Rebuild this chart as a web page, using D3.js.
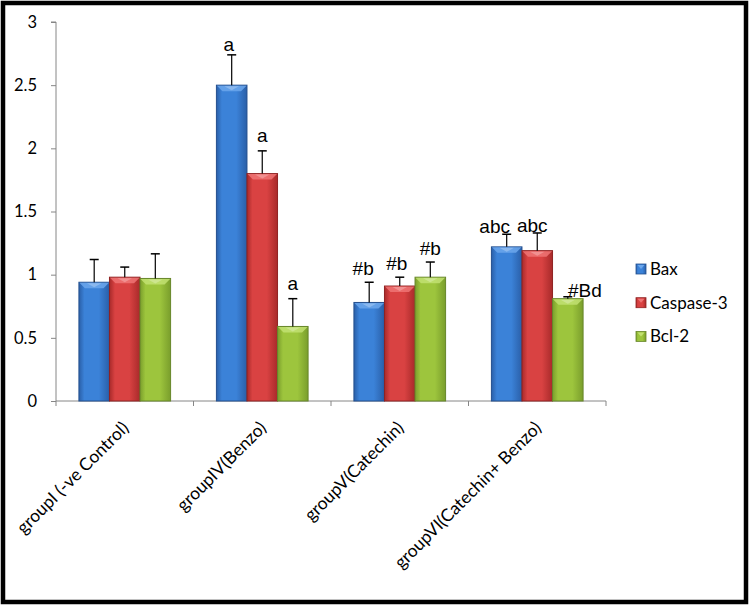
<!DOCTYPE html>
<html>
<head>
<meta charset="utf-8">
<script src="https://cdn.jsdelivr.net/npm/d3@7"></script>
<style>
  html, body { margin: 0; padding: 0; background: #fff; }
  svg { display: block; }
</style>
</head>
<body>
<svg id="chart" width="750" height="607"></svg>
<script>
// ---------- data ----------
const groups = ["groupI (-ve Control)", "groupIV(Benzo)", "groupV(Catechin)", "groupVI(Catechin+ Benzo)"];
const seriesNames = ["Bax", "Caspase-3", "Bcl-2"];
const baxValues = [0.94, 2.50, 0.78, 1.22];
const caspaseValues = [0.98, 1.80, 0.91, 1.19];
const bcl2Values = [0.97, 0.59, 0.98, 0.81];
const baxErrors = [0.18, 0.24, 0.16, 0.10];
const caspaseErrors = [0.08, 0.18, 0.07, 0.14];
const bcl2Errors = [0.195, 0.22, 0.12, 0.015];
const baxLabels = ["", "a", "#b", "abc"];
const caspaseLabels = ["", "a", "#b", "abc"];
const bcl2Labels = ["", "a", "#b", "#Bd"];
const yTicks = [0, 0.5, 1, 1.5, 2, 2.5, 3];

// ---------- annotation placement tweaks (pixels) ----------
const labelDx = [[0, -3, -6, -12], [0, 0, -3, -5], [0, 0, 0, 17]];
const labelDy = [[0, 3, 0, 6], [0, -2, 0, 6], [0, -2, 0, 7]];

// ---------- styles ----------
const palette = {
  "Bax":       {edge: "#2a5fa8", mid: "#3b82d8", light: "#6ca7ec", stroke: "#24508f"},
  "Caspase-3": {edge: "#a82a2a", mid: "#d94242", light: "#ee7474", stroke: "#8f2222"},
  "Bcl-2":     {edge: "#7a9e2c", mid: "#9dc53d", light: "#c2e072", stroke: "#67862a"}
};
const axisColor = "#868686";
const axisFont = "Lato, 'Open Sans', sans-serif";
const labelFont = "'Liberation Sans', Arial, sans-serif";

const seriesValues = [baxValues, caspaseValues, bcl2Values];
const seriesErrors = [baxErrors, caspaseErrors, bcl2Errors];
const seriesLabels = [baxLabels, caspaseLabels, bcl2Labels];

const svg = d3.select("#chart");

// outer frame
svg.append("rect").attr("x", 3).attr("y", 3).attr("width", 743).attr("height", 599)
  .attr("fill", "#fff").attr("stroke", "#000").attr("stroke-width", 4.5);

const plot = {left: 56, right: 606, top: 22, bottom: 401};

const x0 = d3.scaleBand().domain(groups).range([plot.left, plot.right])
  .paddingInner(1/3).paddingOuter(1/6);
const x1 = d3.scaleBand().domain(seriesNames).range([0, x0.bandwidth()]).padding(0);
const y = d3.scaleLinear().domain([0, 3]).range([plot.bottom, plot.top]);

// gradients
const defs = svg.append("defs");
seriesNames.forEach((s, i) => {
  const c = palette[s];
  const g = defs.append("linearGradient").attr("id", "grad" + i)
    .attr("x1", "0%").attr("x2", "100%").attr("y1", "0%").attr("y2", "0%");
  g.append("stop").attr("offset", "0%").attr("stop-color", c.edge);
  g.append("stop").attr("offset", "18%").attr("stop-color", c.mid);
  g.append("stop").attr("offset", "65%").attr("stop-color", c.mid);
  g.append("stop").attr("offset", "100%").attr("stop-color", c.edge);
});

// y axis
const yAxis = d3.axisLeft(y).tickValues(yTicks).tickSize(5).tickPadding(14)
  .tickFormat(d3.format("~g"));
const yg = svg.append("g").attr("transform", `translate(${plot.left},0)`).call(yAxis);
yg.select(".domain").attr("stroke", axisColor).attr("d", `M-5,${plot.top}H0V${plot.bottom}`);
yg.selectAll(".tick line").attr("stroke", axisColor);
yg.selectAll(".tick text").attr("font-family", axisFont).attr("font-size", 16.5).attr("fill", "#000");

// x axis
const xg = svg.append("g").attr("transform", `translate(0,${plot.bottom})`);
xg.append("line").attr("x1", plot.left).attr("x2", plot.right).attr("y1", 0).attr("y2", 0)
  .attr("stroke", axisColor);
const boundaries = groups.map(g => x0(g) - x0.step() * x0.paddingInner() / 2);
boundaries.push(plot.right);
boundaries[0] = plot.left;
xg.selectAll("line.tk").data(boundaries).join("line").attr("class", "tk")
  .attr("x1", d => d).attr("x2", d => d).attr("y1", 0).attr("y2", 5).attr("stroke", axisColor);
xg.selectAll("text.xl").data(groups).join("text").attr("class", "xl")
  .attr("transform", d => `translate(${x0(d) + x0.bandwidth() / 2 + 5},${28}) rotate(-45)`)
  .attr("text-anchor", "end")
  .attr("font-family", axisFont).attr("font-size", 17.5).attr("fill", "#000")
  .text(d => d);

// bars
const barData = [];
groups.forEach((g, gi) => {
  seriesNames.forEach((s, si) => {
    barData.push({g, gi, s, si, v: seriesValues[si][gi], e: seriesErrors[si][gi], lab: seriesLabels[si][gi]});
  });
});

const bars = svg.append("g").selectAll("g.bar").data(barData).join("g").attr("class", "bar");
bars.append("rect")
  .attr("x", d => x0(d.g) + x1(d.s))
  .attr("y", d => y(d.v))
  .attr("width", x1.bandwidth())
  .attr("height", d => y(0) - y(d.v))
  .attr("fill", d => `url(#grad${d.si})`)
  .attr("stroke", d => palette[d.s].stroke).attr("stroke-width", 1);
// top bevel
bars.append("path")
  .attr("d", d => {
    const xa = x0(d.g) + x1(d.s), xb = xa + x1.bandwidth(), yt = y(d.v);
    return `M${xa + 0.5},${yt + 0.5}L${xb - 0.5},${yt + 0.5}L${xb - 6},${yt + 6}L${xa + 6},${yt + 6}Z`;
  })
  .attr("fill", d => palette[d.s].light).attr("opacity", 0.85);
bars.append("path")
  .attr("d", d => {
    const xa = x0(d.g) + x1(d.s), xb = xa + x1.bandwidth(), yt = y(d.v), xm = (xa + xb) / 2;
    return `M${xa + 8},${yt + 1}L${xb - 8},${yt + 1}L${xm},${yt + 5}Z`;
  })
  .attr("fill", "#fff").attr("opacity", 0.25);

// error bars
const eb = svg.append("g");
barData.forEach(d => {
  const cx = x0(d.g) + x1(d.s) + x1.bandwidth() / 2;
  eb.append("line").attr("x1", cx).attr("x2", cx).attr("y1", y(d.v)).attr("y2", y(d.v + d.e))
    .attr("stroke", "#000").attr("stroke-width", 1.2);
  eb.append("line").attr("x1", cx - 4.5).attr("x2", cx + 4.5).attr("y1", y(d.v + d.e)).attr("y2", y(d.v + d.e))
    .attr("stroke", "#000").attr("stroke-width", 1.5);
});

// significance labels
svg.append("g").selectAll("text").data(barData.filter(d => d.lab)).join("text")
  .attr("x", d => x0(d.g) + x1(d.s) + x1.bandwidth() / 2 + labelDx[d.si][d.gi])
  .attr("y", d => y(d.v + d.e) - 7 + labelDy[d.si][d.gi])
  .attr("text-anchor", "middle")
  .attr("font-family", labelFont).attr("font-size", 19).attr("fill", "#000")
  .text(d => d.lab);

// legend
const lg = svg.append("g").attr("transform", "translate(636,269)");
seriesNames.forEach((s, i) => {
  const row = lg.append("g").attr("transform", `translate(0,${i * 33.7})`);
  row.append("rect").attr("x", 0).attr("y", -5).attr("width", 10).attr("height", 10)
    .attr("fill", `url(#grad${i})`).attr("stroke", palette[s].stroke).attr("stroke-width", 0.8);
  row.append("path").attr("d", "M1.5,-4L8.5,-4L5,0Z").attr("fill", palette[s].light);
  row.append("text").attr("x", 14).attr("y", 0).attr("dy", "0.35em")
    .attr("font-family", axisFont).attr("font-size", 17).attr("fill", "#000").text(s);
});
</script>
</body>
</html>
